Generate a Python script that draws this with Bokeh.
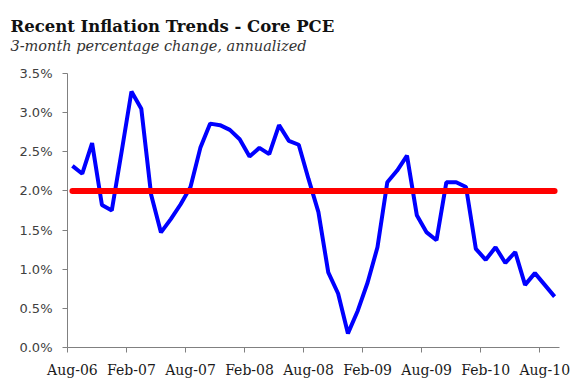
import pandas as pd
from bokeh.plotting import figure
from bokeh.models import Range1d, FixedTicker, PrintfTickFormatter, Title, ColumnDataSource
from bokeh.embed import file_html
from bokeh.resources import INLINE

# ---- data ----
months = [d.strftime("%b-%y") for d in pd.date_range("2006-08-01", "2010-09-01", freq="MS")]
core_pce = [2.32, 2.22, 2.61, 1.82, 1.75, 2.50, 3.27, 3.05, 1.95, 1.47,
            1.64, 1.83, 2.05, 2.55, 2.86, 2.84, 2.78, 2.66, 2.44, 2.55,
            2.47, 2.84, 2.64, 2.59, 2.15, 1.73, 0.96, 0.69, 0.18, 0.47,
            0.83, 1.28, 2.11, 2.26, 2.45, 1.69, 1.47, 1.37, 2.11, 2.11,
            2.05, 1.26, 1.12, 1.28, 1.08, 1.22, 0.80, 0.95, 0.80, 0.65]
target = [2.0] * len(months)
x_tick_labels = ["Aug-06", "Feb-07", "Aug-07", "Feb-08", "Aug-08",
                 "Feb-09", "Aug-09", "Feb-10", "Aug-10"]
y_ticks = [0.0, 0.5, 1.0, 1.5, 2.0, 2.5, 3.0, 3.5]

title_text = "Recent Inflation Trends - Core PCE"
subtitle_text = "3-month percentage change, annualized"

# category centres on a 0..N numeric axis
x = [i + 0.5 for i in range(len(months))]
src = ColumnDataSource(dict(x=x, pce=core_pce, target=target))

p = figure(width=572, height=384, output_backend="svg", toolbar_location=None,
           x_range=Range1d(0, len(months)), y_range=Range1d(0, 3.5),
           min_border_left=67, min_border_right=13, min_border_top=73, min_border_bottom=37)
p.outline_line_color = None
p.xgrid.visible = False
p.ygrid.visible = False
p.background_fill_color = "white"
p.border_fill_color = "white"

p.line("x", "pce", source=src, line_color="#0000FF", line_width=4)
p.line("x", "target", source=src, line_color="#FF0000", line_width=6, line_cap="round")

# x axis: labels at category centres, tick marks at category boundaries
label_pos = [months.index(l) + 0.5 for l in x_tick_labels]
bound_pos = [months.index(l) for l in x_tick_labels]
xa = p.xaxis[0]
xa.ticker = FixedTicker(ticks=label_pos, minor_ticks=bound_pos)
xa.major_label_overrides = {pos: lbl for pos, lbl in zip(label_pos, x_tick_labels)}
xa.major_tick_out = 0
xa.major_tick_in = 0
xa.minor_tick_out = 5
xa.minor_tick_in = 0
xa.minor_tick_line_color = "#808080"
xa.axis_line_color = "#808080"
xa.major_label_standoff = 9
xa.major_label_text_font = "DejaVu Serif"
xa.major_label_text_font_size = "14px"
xa.major_label_text_color = "#1a1a1a"

ya = p.yaxis[0]
ya.ticker = FixedTicker(ticks=y_ticks, minor_ticks=[])
ya.formatter = PrintfTickFormatter(format="%.1f%%")
ya.major_tick_out = 5
ya.major_tick_in = 0
ya.minor_tick_out = 0
ya.minor_tick_in = 0
ya.major_tick_line_color = "#808080"
ya.axis_line_color = "#808080"
ya.major_label_standoff = 10
ya.major_label_text_font = "DejaVu Sans"
ya.major_label_text_font_size = "13px"
ya.major_label_text_color = "#404040"

p.add_layout(Title(text=subtitle_text, align="left", offset=-57, standoff=39,
                   text_font="DejaVu Serif", text_font_style="italic", text_font_size="14.5px",
                   text_color="#333333"), "above")
p.add_layout(Title(text=title_text, align="left", offset=-57, standoff=-39,
                   text_font="DejaVu Serif", text_font_style="bold", text_font_size="16.5px",
                   text_color="#111111"), "above")

open("out.html", "w").write(file_html(p, INLINE))
